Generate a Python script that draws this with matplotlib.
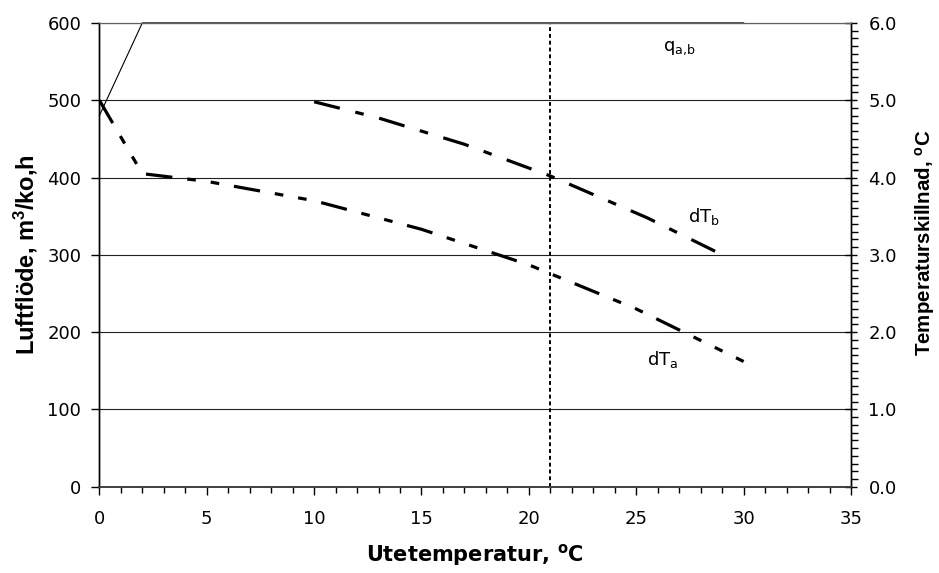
import matplotlib
matplotlib.use("Agg")
import matplotlib.pyplot as plt
from matplotlib.ticker import MultipleLocator

plt.rcParams['font.family'] = ['DejaVu Sans']
plt.rcParams['mathtext.default'] = 'regular'

# Data
ute_q = [0, 2, 30]
q_ab = [480, 600, 600]          # luftflöde, clamped at the top of the axis

ute_a = [0, 2, 5, 10, 15, 20, 25, 30]
dT_a = [5.0, 4.05, 3.95, 3.70, 3.33, 2.87, 2.30, 1.62]

ute_b = [10, 13, 17, 21, 25.5, 29.3]
dT_b = [4.98, 4.77, 4.43, 4.02, 3.48, 2.96]

ute_dim = 21                    # vertical dotted line

fig = plt.figure(figsize=(9.39, 5.73), dpi=100)
ax1 = fig.add_axes([0.1058, 0.1506, 0.8005, 0.8094])
ax2 = ax1.twinx()

# gridlines
for v in range(100, 601, 100):
    ax1.axhline(v, color='#202020', lw=0.8, zorder=1)

ax1.plot(ute_q, q_ab, color='black', lw=0.8, zorder=3, clip_on=False)
ax1.plot([ute_dim, ute_dim], [0, 600], color='black', lw=1.4,
         dashes=(2.0, 1.5), zorder=2)

ax2.plot(ute_a, dT_a, color='black', lw=2.3, dash_capstyle='butt',
         dashes=(8.3, 4.7, 2.7, 4.7, 2.7, 4.7))
ax2.plot(ute_b, dT_b, color='black', lw=2.3, dash_capstyle='butt',
         dashes=(8.3, 5.0, 2.7, 5.0))

ax1.set_xlim(0, 35)
ax1.set_ylim(0, 600)
ax2.set_ylim(0, 6.0)

ax1.xaxis.set_major_locator(MultipleLocator(5))
ax1.xaxis.set_minor_locator(MultipleLocator(1))
ax1.yaxis.set_major_locator(MultipleLocator(100))
ax2.yaxis.set_minor_locator(MultipleLocator(0.1))
ax2.set_yticks([i * 1.0 for i in range(7)])
ax2.set_yticklabels([f"{i:.1f}" for i in range(7)])

ax1.tick_params(axis='x', which='major', direction='out', length=6, width=1,
                labelsize=13, pad=11)
ax1.tick_params(axis='x', which='minor', direction='out', length=4, width=1)
ax1.tick_params(axis='y', which='major', direction='out', length=6, width=1,
                labelsize=13, pad=7)
ax2.tick_params(axis='y', which='major', direction='inout', length=9, width=1,
                labelsize=13, pad=8)
ax2.tick_params(axis='y', which='minor', direction='out', length=5, width=1)

for ax in (ax1, ax2):
    ax.spines['top'].set_color('#606060')
    ax.spines['top'].set_linewidth(0.8)
    ax.spines['left'].set_linewidth(1)
    ax.spines['right'].set_linewidth(1)
    ax.spines['bottom'].set_linewidth(1.2)
    ax.spines['bottom'].set_color('#404040')

ax1.set_xlabel('Utetemperatur, $^o$C', fontsize=15, fontweight='bold', labelpad=10)
ax1.set_ylabel('Luftflöde, m$^3$/ko,h', fontsize=17, fontweight='bold',
               family='Liberation Sans', labelpad=5)
ax2.set_ylabel('Temperaturskillnad, $^o$C', fontsize=14.8, fontweight='bold',
               family='Liberation Sans')
ax2.yaxis.set_label_coords(1.082, 0.525)

ax1.text(27.0, 568, r'q$_{a,\!b}$', fontsize=13, ha='center', va='center')
ax2.text(27.4, 3.49, 'dT$_b$', fontsize=13, ha='left', va='center')
ax2.text(25.5, 1.64, 'dT$_a$', fontsize=13, ha='left', va='center')

fig.savefig('out.png', dpi=100)
